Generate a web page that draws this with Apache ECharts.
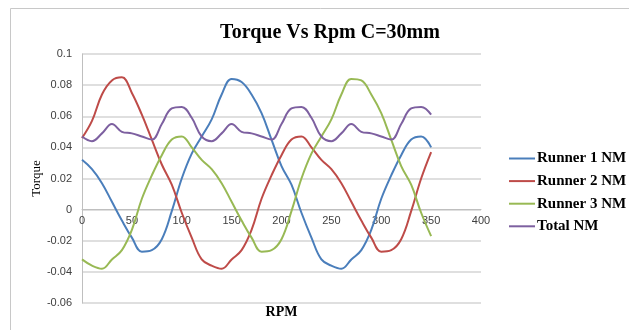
<!DOCTYPE html>
<html>
<head>
<meta charset="utf-8">
<script src="https://cdn.jsdelivr.net/npm/echarts@6/dist/echarts.min.js"></script>
<style>
html, body { margin: 0; padding: 0; background: #fff; }
#main { width: 629px; height: 330px; }
</style>
</head>
<body>
<div id="main"></div>
<script>
// rpm steps
var rpm = [0, 10, 20, 30, 40, 50, 60, 70, 80, 90, 100, 110, 120, 130, 140, 150, 160, 170,
	180, 190, 200, 210, 220, 230, 240, 250, 260, 270, 280, 290, 300, 310, 320, 330, 340, 350];

var runner1 = [0.032, 0.026, 0.017, 0.005, -0.007, -0.018, -0.027, -0.026, -0.019, -0.001,
	0.020, 0.036, 0.047, 0.058, 0.074, 0.084, 0.082, 0.074, 0.062, 0.045, 0.028, 0.016,
	-0.002, -0.018, -0.032, -0.036, -0.038, -0.032, -0.026, -0.013, 0.007, 0.022, 0.035,
	0.045, 0.047, 0.040];

var runner2 = [0.046, 0.057, 0.074, 0.083, 0.085, 0.075, 0.061, 0.045, 0.029, 0.016,
	-0.002, -0.018, -0.032, -0.036, -0.038, -0.032, -0.026, -0.013, 0.007, 0.022, 0.035,
	0.045, 0.047, 0.040, 0.032, 0.026, 0.017, 0.005, -0.007, -0.018, -0.027, -0.026,
	-0.019, -0.001, 0.020, 0.037];

var runner3 = [-0.032, -0.036, -0.038, -0.032, -0.026, -0.013, 0.007, 0.022, 0.035, 0.045,
	0.047, 0.040, 0.032, 0.026, 0.017, 0.005, -0.007, -0.018, -0.027, -0.026, -0.019,
	-0.001, 0.020, 0.036, 0.047, 0.058, 0.074, 0.084, 0.083, 0.074, 0.062, 0.045, 0.028,
	0.016, -0.002, -0.017];

var total = [0.047, 0.044, 0.049, 0.055, 0.050, 0.049, 0.047, 0.045, 0.055, 0.065,
	0.066, 0.059, 0.047, 0.044, 0.049, 0.055, 0.050, 0.049, 0.047, 0.045, 0.055, 0.065,
	0.066, 0.059, 0.047, 0.044, 0.049, 0.055, 0.050, 0.049, 0.047, 0.045, 0.055, 0.065,
	0.066, 0.061];

var seriesNames = ['Runner 1 NM', 'Runner 2 NM', 'Runner 3 NM', 'Total NM'];
var colorList = ['#4a7ebb', '#be4b48', '#98b954', '#7d60a0'];

function pairs(values) {
	var out = [];
	for (var i = 0; i < rpm.length; i++) {
		out.push([rpm[i], values[i]]);
	}
	return out;
}

function makeSeries(name, values, color) {
	return {
		name: name,
		type: 'line',
		data: pairs(values),
		smooth: 0.4,
		showSymbol: false,
		lineStyle: { color: color, width: 2 },
		itemStyle: { color: color }
	};
}

var chart = echarts.init(document.getElementById('main'));
var option = {
	animation: false,
	backgroundColor: '#fff',
	graphic: [{
		type: 'rect',
		shape: { x: 10.5, y: 8.5, width: 700, height: 400 },
		style: { fill: 'none', stroke: '#c8c8c8', lineWidth: 1 }
	}],
	title: {
		text: 'Torque Vs Rpm C=30mm',
		left: 325,
		top: 18,
		textAlign: 'center',
		textStyle: { fontFamily: 'Liberation Serif', fontWeight: 'bold', fontSize: 20, color: '#000' }
	},
	legend: {
		orient: 'vertical',
		left: 504,
		top: 146,
		icon: 'rect',
		itemWidth: 26,
		itemHeight: 2,
		itemGap: 7.6,
		data: seriesNames,
		textStyle: {
			fontFamily: 'Liberation Serif', fontWeight: 'bold', fontSize: 15, color: '#000',
			lineHeight: 15, padding: [0, 0, 0, -3]
		}
	},
	grid: { left: 82, right: 148, top: 54, bottom: 27, containLabel: false, outerBoundsMode: 'none' },
	xAxis: {
		type: 'value',
		min: 0,
		max: 400,
		interval: 50,
		// axis sits on the zero line of the torque axis
		offset: -93.4,
		name: 'RPM',
		nameLocation: 'middle',
		nameGap: 96,
		nameMoveOverlap: false,
		nameTextStyle: { fontFamily: 'Liberation Serif', fontWeight: 'bold', fontSize: 14, color: '#000' },
		axisLine: { onZero: false, lineStyle: { color: '#bfbfbf' } },
		axisTick: { show: false },
		axisLabel: { fontFamily: 'Liberation Sans', fontSize: 11, color: '#404040', margin: 6 },
		splitLine: { show: false }
	},
	yAxis: {
		type: 'value',
		min: -0.06,
		max: 0.1,
		interval: 0.02,
		name: 'Torque',
		nameLocation: 'middle',
		nameGap: 39,
		nameMoveOverlap: false,
		nameRotate: 90,
		nameTextStyle: { fontFamily: 'Liberation Serif', fontSize: 13, color: '#000' },
		axisLine: { show: true, onZero: false, lineStyle: { color: '#bfbfbf' } },
		axisTick: { show: false },
		axisLabel: { fontFamily: 'Liberation Sans', fontSize: 11, color: '#404040', margin: 10 },
		splitLine: { show: true, lineStyle: { color: '#d4d4d4', width: 1.5 } }
	},
	series: [
		makeSeries(seriesNames[0], runner1, colorList[0]),
		makeSeries(seriesNames[1], runner2, colorList[1]),
		makeSeries(seriesNames[2], runner3, colorList[2]),
		makeSeries(seriesNames[3], total, colorList[3])
	]
};
chart.setOption(option);
</script>
</body>
</html>
